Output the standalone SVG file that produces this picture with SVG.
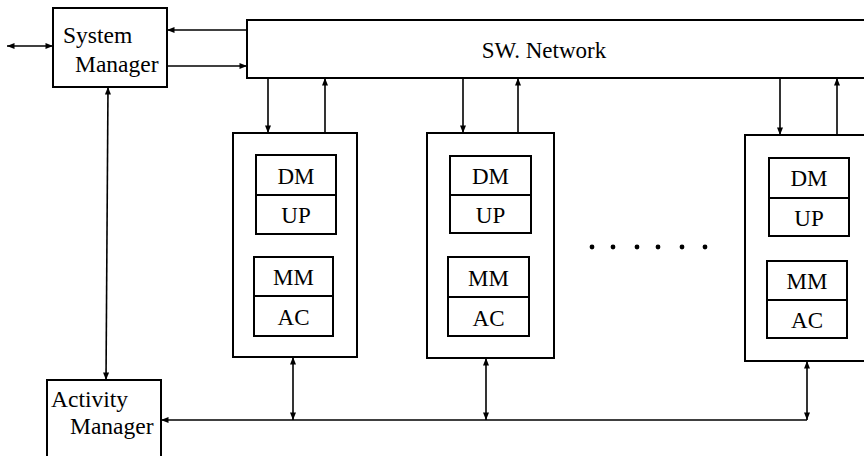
<svg xmlns="http://www.w3.org/2000/svg" width="864" height="456" viewBox="0 0 864 456">
  <style>
    .box { fill: #fff; stroke: #000; stroke-width: 2; }
    .div { stroke: #000; stroke-width: 2; fill: none; }
    .wire { stroke: #000; stroke-width: 1.6; fill: none; }
    .one { marker-end: url(#ah); }
    .two { marker-start: url(#ah); marker-end: url(#ah); }
    .lbl { font-family: "Liberation Serif", "Times New Roman", serif; font-size: 23.5px; fill: #000; }
    .net { font-family: "Liberation Serif", "Times New Roman", serif; font-size: 23px; fill: #000; text-anchor: middle; }
    .mod { font-family: "Liberation Serif", "Times New Roman", serif; font-size: 23px; fill: #000; text-anchor: middle; }
    .dot { fill: #000; }
  </style>
  <defs>
    <marker id="ah" viewBox="0 0 10 8" refX="10" refY="4" markerWidth="9" markerHeight="6" markerUnits="userSpaceOnUse" orient="auto-start-reverse">
      <path d="M0,0 L10,4 L0,8 Z" fill="#000"/>
    </marker>
  </defs>

  <rect width="864" height="456" fill="#fff"/>

  <!-- connectors -->
  <g id="connectors">
    <!-- external link of the system manager -->
    <line class="wire two" x1="7" y1="46" x2="53" y2="46"/>
    <!-- system manager <-> network -->
    <line class="wire one" x1="247" y1="30" x2="167" y2="30"/>
    <line class="wire one" x1="167" y1="66" x2="247" y2="66"/>
    <!-- system manager <-> activity manager -->
    <line class="wire two" x1="108" y1="87" x2="106" y2="380"/>
    <!-- activity bus -->
    <line class="wire one" x1="807" y1="420" x2="161" y2="420"/>
    <line class="wire two" x1="293" y1="357" x2="293" y2="420"/>
    <line class="wire two" x1="486" y1="358" x2="486" y2="420"/>
    <line class="wire two" x1="807" y1="361" x2="807" y2="420"/>
    <!-- network <-> modules -->
    <line class="wire one" x1="268" y1="78" x2="268" y2="133"/>
    <line class="wire one" x1="325" y1="133" x2="325" y2="78"/>
    <line class="wire one" x1="463" y1="78" x2="463" y2="133"/>
    <line class="wire one" x1="518" y1="133" x2="518" y2="78"/>
    <line class="wire one" x1="780" y1="78" x2="780" y2="135"/>
    <line class="wire one" x1="837" y1="135" x2="837" y2="78"/>
    <!-- inside the modules -->
    <line class="wire one" x1="272" y1="234" x2="272" y2="257"/>
    <line class="wire one" x1="318" y1="257" x2="318" y2="234"/>
    <line class="wire one" x1="465" y1="233" x2="465" y2="257"/>
    <line class="wire one" x1="512" y1="257" x2="512" y2="233"/>
    <line class="wire one" x1="786" y1="236" x2="786" y2="261"/>
    <line class="wire one" x1="830" y1="261" x2="830" y2="236"/>
  </g>

  <g id="system-manager">
    <rect class="box" x="53" y="8" width="114" height="79"/>
    <text class="lbl" x="63" y="43">System</text>
    <text class="lbl" x="75" y="72">Manager</text>
  </g>

  <g id="sw-network">
    <rect class="box" x="247" y="20" width="630" height="58"/>
    <text class="net" x="544" y="58">SW. Network</text>
  </g>

  <g id="activity-manager">
    <rect class="box" x="47" y="380" width="114" height="90"/>
    <text class="lbl" x="51" y="407">Activity</text>
    <text class="lbl" x="70" y="434">Manager</text>
  </g>

  <g id="module-1">
    <rect class="box" x="233" y="133" width="124" height="224"/>
    <rect class="box" x="256" y="155" width="80" height="79"/>
    <line class="div" x1="256" y1="195" x2="336" y2="195"/>
    <text class="mod" x="296" y="184">DM</text>
    <text class="mod" x="296" y="223">UP</text>
    <rect class="box" x="254" y="257" width="79" height="79"/>
    <line class="div" x1="254" y1="296" x2="333" y2="296"/>
    <text class="mod" x="293.5" y="285">MM</text>
    <text class="mod" x="293.5" y="325">AC</text>
  </g>

  <g id="module-2">
    <rect class="box" x="427" y="133" width="127" height="225"/>
    <rect class="box" x="450" y="156" width="81" height="77"/>
    <line class="div" x1="450" y1="195" x2="531" y2="195"/>
    <text class="mod" x="490.5" y="184">DM</text>
    <text class="mod" x="490.5" y="223">UP</text>
    <rect class="box" x="448" y="257" width="81" height="79"/>
    <line class="div" x1="448" y1="297" x2="529" y2="297"/>
    <text class="mod" x="488.5" y="286">MM</text>
    <text class="mod" x="488.5" y="326">AC</text>
  </g>

  <g id="ellipsis">
    <circle class="dot" cx="592" cy="247" r="2.4"/>
    <circle class="dot" cx="613" cy="247" r="2.4"/>
    <circle class="dot" cx="637" cy="247" r="2.4"/>
    <circle class="dot" cx="658" cy="247" r="2.4"/>
    <circle class="dot" cx="682" cy="247" r="2.4"/>
    <circle class="dot" cx="705" cy="247" r="2.4"/>
  </g>

  <g id="module-n">
    <rect class="box" x="745" y="135" width="130" height="226"/>
    <rect class="box" x="769" y="158" width="80" height="78"/>
    <line class="div" x1="769" y1="198" x2="849" y2="198"/>
    <text class="mod" x="809" y="186">DM</text>
    <text class="mod" x="809" y="226">UP</text>
    <rect class="box" x="767" y="261" width="80" height="77"/>
    <line class="div" x1="767" y1="300" x2="847" y2="300"/>
    <text class="mod" x="807" y="289">MM</text>
    <text class="mod" x="807" y="328">AC</text>
  </g>
</svg>
